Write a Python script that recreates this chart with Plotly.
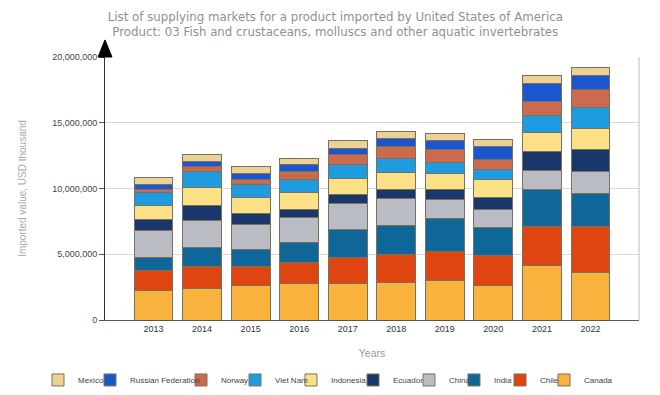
import plotly.graph_objects as go

years = ["2013", "2014", "2015", "2016", "2017", "2018", "2019", "2020", "2021", "2022"]

# Values in USD thousand (stack order bottom -> top)
canada = [2280000, 2360000, 2590000, 2740000, 2790000, 2840000, 2990000, 2610000, 4130000, 3600000]
chile = [1470000, 1700000, 1470000, 1620000, 1950000, 2160000, 2210000, 2280000, 2970000, 3500000]
india = [1020000, 1440000, 1310000, 1520000, 2150000, 2170000, 2530000, 2130000, 2840000, 2530000]
china = [2020000, 2100000, 1930000, 1880000, 1980000, 2080000, 1470000, 1400000, 1410000, 1650000]
ecuador = [870000, 1090000, 810000, 680000, 690000, 710000, 740000, 880000, 1500000, 1700000]
indonesia = [1030000, 1400000, 1190000, 1240000, 1210000, 1240000, 1210000, 1350000, 1420000, 1600000]
viet_nam = [990000, 1190000, 970000, 1040000, 1020000, 1100000, 810000, 760000, 1270000, 1590000]
norway = [260000, 430000, 450000, 560000, 760000, 880000, 970000, 830000, 1110000, 1370000]
russia = [400000, 380000, 410000, 510000, 500000, 640000, 710000, 940000, 1300000, 1020000]
mexico = [510000, 510000, 530000, 510000, 590000, 550000, 560000, 510000, 610000, 630000]

series_names = ["Canada", "Chile", "India", "China", "Ecuador", "Indonesia",
                "Viet Nam", "Norway", "Russian Federation", "Mexico"]
series_values = [canada, chile, india, china, ecuador, indonesia,
                 viet_nam, norway, russia, mexico]
series_colors = ["#f9b23e", "#de4510", "#0f6698", "#b9bcc2", "#19376a", "#fbe086",
                 "#1f9be0", "#cb6a4c", "#1a56d0", "#ebd193"]
# legend entry text start positions (pixels from the left of the figure)
legend_text_px = [582, 538, 492, 447, 391, 329, 273, 219, 128, 76]

PLOT_L, PLOT_R = 105, 639
PLOT_W = PLOT_R - PLOT_L

fig = go.Figure()
layout_legends = {}
for i, (name, vals, col, tx) in enumerate(zip(series_names, series_values, series_colors, legend_text_px)):
    key = "legend" if i == 0 else f"legend{i + 1}"
    fig.add_trace(go.Bar(
        x=years, y=vals, name=name,
        marker=dict(color=col, line=dict(color="#7a7060", width=1)),
        legend=key,
    ))
    layout_legends[key] = dict(
        orientation="h",
        x=(tx - 38 - PLOT_L) / PLOT_W, xanchor="left",
        y=-0.228, yanchor="middle",
        font=dict(size=8, color="#444444"),
        itemwidth=30,
        bgcolor="rgba(0,0,0,0)",
        borderwidth=0,
    )

fig.update_layout(
    barmode="stack",
    bargap=0.2,
    width=660, height=395,
    paper_bgcolor="white", plot_bgcolor="white",
    margin=dict(l=PLOT_L, r=660 - PLOT_R, t=57, b=75, autoexpand=False),
    font=dict(family="Liberation Sans, Arial, sans-serif", size=9, color="#333333"),
    title=dict(
        text="List of supplying markets for a product imported by United States of America<br>"
             "Product: 03 Fish and crustaceans, molluscs and other aquatic invertebrates",
        x=0.508, xanchor="center", y=0.947, yanchor="top",
        font=dict(family="DejaVu Sans, sans-serif", size=11.8, color="#909090"),
    ),
    xaxis=dict(
        type="category",
        range=[-1, 10],
        showline=True, linecolor="#555555", linewidth=1,
        showgrid=False, ticks="",
        tickfont=dict(size=9, color="#333333"),
        title=dict(text="Years", font=dict(size=10.5, color="#999999"), standoff=16),
        automargin=False,
    ),
    yaxis=dict(
        range=[0, 20000000],
        tickvals=[0, 5000000, 10000000, 15000000, 20000000],
        tickformat=",d",
        showline=True, linecolor="#333333", linewidth=1,
        ticks="outside", ticklen=5, tickcolor="#555555",
        showgrid=True, gridcolor="#d8d8d8", gridwidth=1,
        zeroline=False,
        tickfont=dict(size=9, color="#444444"),
        title=dict(text="Imported value, USD thousand", font=dict(size=10, color="#aaaaaa"), standoff=23),
        automargin=False,
    ),
    showlegend=True,
    **layout_legends,
)

# right border of the plot frame
fig.add_shape(type="line", xref="paper", yref="paper", x0=1, x1=1, y0=0, y1=1,
              line=dict(color="#bbbbbb", width=1))
# arrow head at the top of the y axis
fig.add_shape(type="path", xref="paper", yref="paper",
              path="M -0.013 1.0 L 0.013 1.0 L 0 1.065 Z",
              fillcolor="black", line=dict(color="black", width=1))

fig.write_html("out.html", config={"displayModeBar": False},
               post_script="document.body.style.margin='0';")
